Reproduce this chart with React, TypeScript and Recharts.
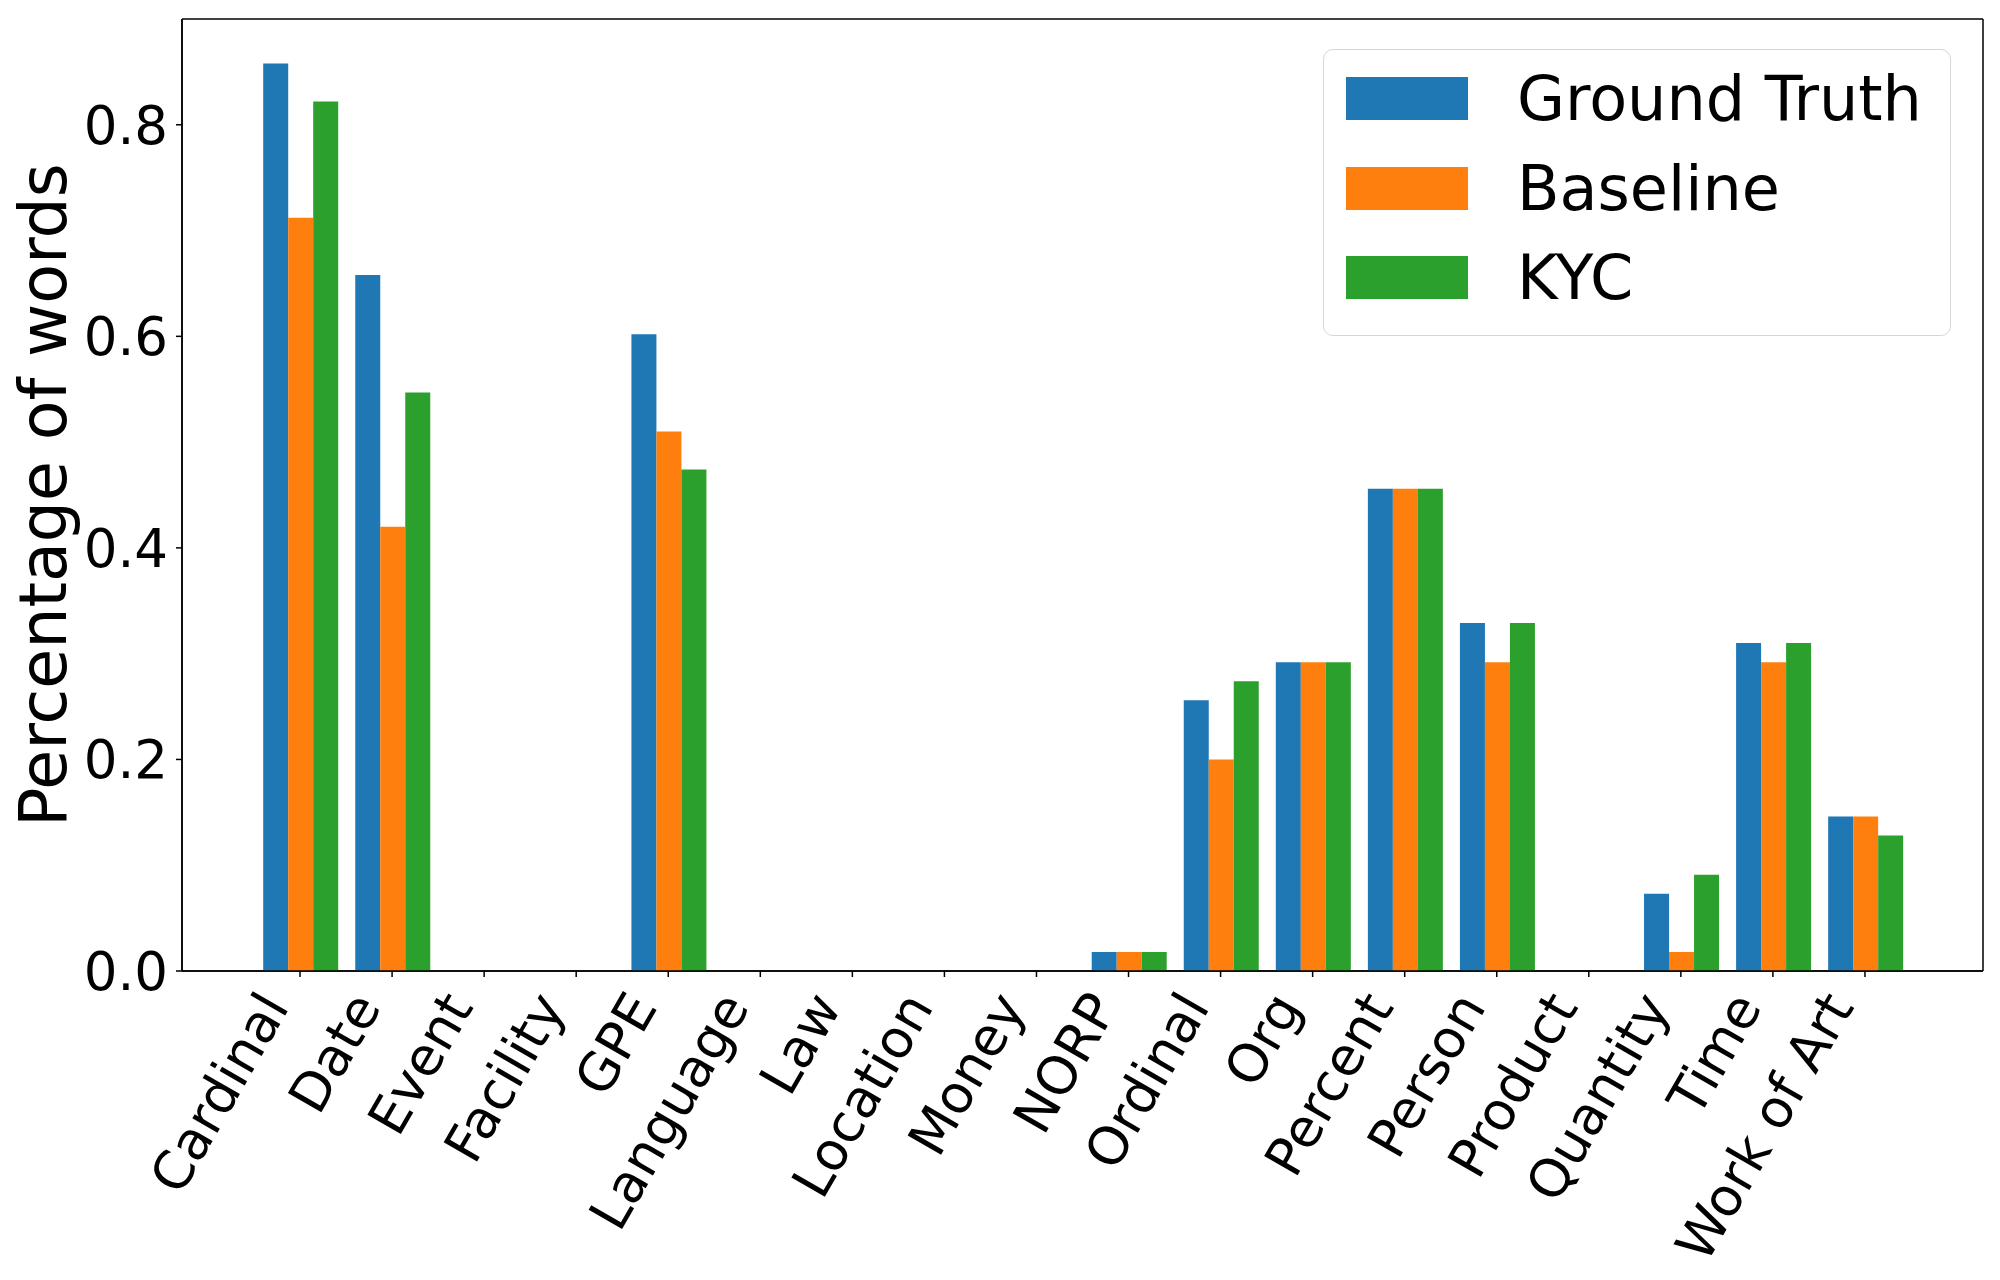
import React from "react";
import { BarChart, Bar, XAxis, YAxis, CartesianGrid } from "recharts";

const categories = [
  "Cardinal", "Date", "Event", "Facility", "GPE", "Language", "Law", "Location", "Money",
  "NORP", "Ordinal", "Org", "Percent", "Person", "Product", "Quantity", "Time", "Work of Art",
];
const groundTruth = [0.858, 0.658, 0, 0, 0.602, 0, 0, 0, 0, 0.018, 0.256, 0.292, 0.456, 0.329, 0, 0.073, 0.31, 0.146];
const baseline = [0.712, 0.42, 0, 0, 0.51, 0, 0, 0, 0, 0.018, 0.2, 0.292, 0.456, 0.292, 0, 0.018, 0.292, 0.146];
const kyc = [0.822, 0.547, 0, 0, 0.474, 0, 0, 0, 0, 0.018, 0.274, 0.292, 0.456, 0.329, 0, 0.091, 0.31, 0.128];
const yTicks = [0, 0.2, 0.4, 0.6, 0.8];

const series = [
  { key: "gt", name: "Ground Truth", color: "#1f77b4" },
  { key: "base", name: "Baseline", color: "#ff7f0e" },
  { key: "kyc", name: "KYC", color: "#2ca02c" },
];

const data = categories.map((name, i) => ({
  name,
  gt: groundTruth[i],
  base: baseline[i],
  kyc: kyc[i],
}));

const FONT = "DejaVu Sans";

function XTick({ x, y, payload }: any) {
  const ex = x - 10;
  const ey = y + 30;
  return (
    <text
      x={ex}
      y={ey}
      transform={`rotate(-60 ${ex} ${ey})`}
      textAnchor="end"
      fontSize={53}
      fontFamily={FONT}
      fill="#000"
    >
      {payload.value}
    </text>
  );
}

function YLabel() {
  return (
    <text
      x={66}
      y={495}
      transform="rotate(-90 66 495)"
      textAnchor="middle"
      fontSize={65}
      fontFamily={FONT}
      fill="#000"
    >
      Percentage of words
    </text>
  );
}

// frame lines on the plot edges
const frameH = ({ offset }: any) => [offset.top, offset.top + offset.height];
const frameV = ({ offset }: any) => [offset.left, offset.left + offset.width];

function LegendBox() {
  return (
    <div
      style={{
        position: "absolute",
        left: 1323,
        top: 49,
        width: 626,
        height: 285,
        border: "1.5px solid #d6d6d6",
        borderRadius: 10,
        background: "rgba(255,255,255,0.8)",
        fontFamily: FONT,
      }}
    >
      {series.map((s, i) => (
        <div
          key={s.key}
          style={{
            position: "absolute",
            left: 22,
            top: 27 + i * 89.5,
            height: 43,
            display: "flex",
            alignItems: "center",
          }}
        >
          <div style={{ width: 122, height: 43, background: s.color }} />
          <span style={{ marginLeft: 49, fontSize: 62, lineHeight: "43px", color: "#000", whiteSpace: "nowrap" }}>
            {s.name}
          </span>
        </div>
      ))}
    </div>
  );
}

export default function App() {
  return (
    <div style={{ width: 2000, height: 1280, background: "#fff", position: "relative" }}>
      <style>{`body{margin:0;}`}</style>
      <BarChart
        width={2000}
        height={1280}
        data={data}
        margin={{ top: 19, right: 17, left: 0, bottom: 0 }}
        barCategoryGap="10%"
        barGap={0}
      >
        <CartesianGrid
          stroke="#000"
          strokeWidth={1.5}
          fill="none"
          horizontalCoordinatesGenerator={frameH}
          verticalCoordinatesGenerator={frameV}
        />
        <XAxis
          dataKey="name"
          interval={0}
          padding={{ left: 72, right: 72 }}
          height={309}
          tickSize={6}
          tickMargin={0}
          tick={<XTick />}
          tickLine={{ stroke: "#000", strokeWidth: 1.5 }}
          axisLine={{ stroke: "#000", strokeWidth: 1.5 }}
        />
        <YAxis
          width={182}
          domain={[0, 0.9]}
          ticks={yTicks}
          tickFormatter={(v: number) => v.toFixed(1)}
          tickSize={6}
          tickMargin={8}
          tick={{ fontSize: 53, fontFamily: FONT, fill: "#000" }}
          tickLine={{ stroke: "#000", strokeWidth: 1.5 }}
          axisLine={{ stroke: "#000", strokeWidth: 1.5 }}
          label={<YLabel />}
        />
        {series.map((s) => (
          <Bar key={s.key} dataKey={s.key} name={s.name} fill={s.color} isAnimationActive={false} />
        ))}
      </BarChart>
      <LegendBox />
    </div>
  );
}
